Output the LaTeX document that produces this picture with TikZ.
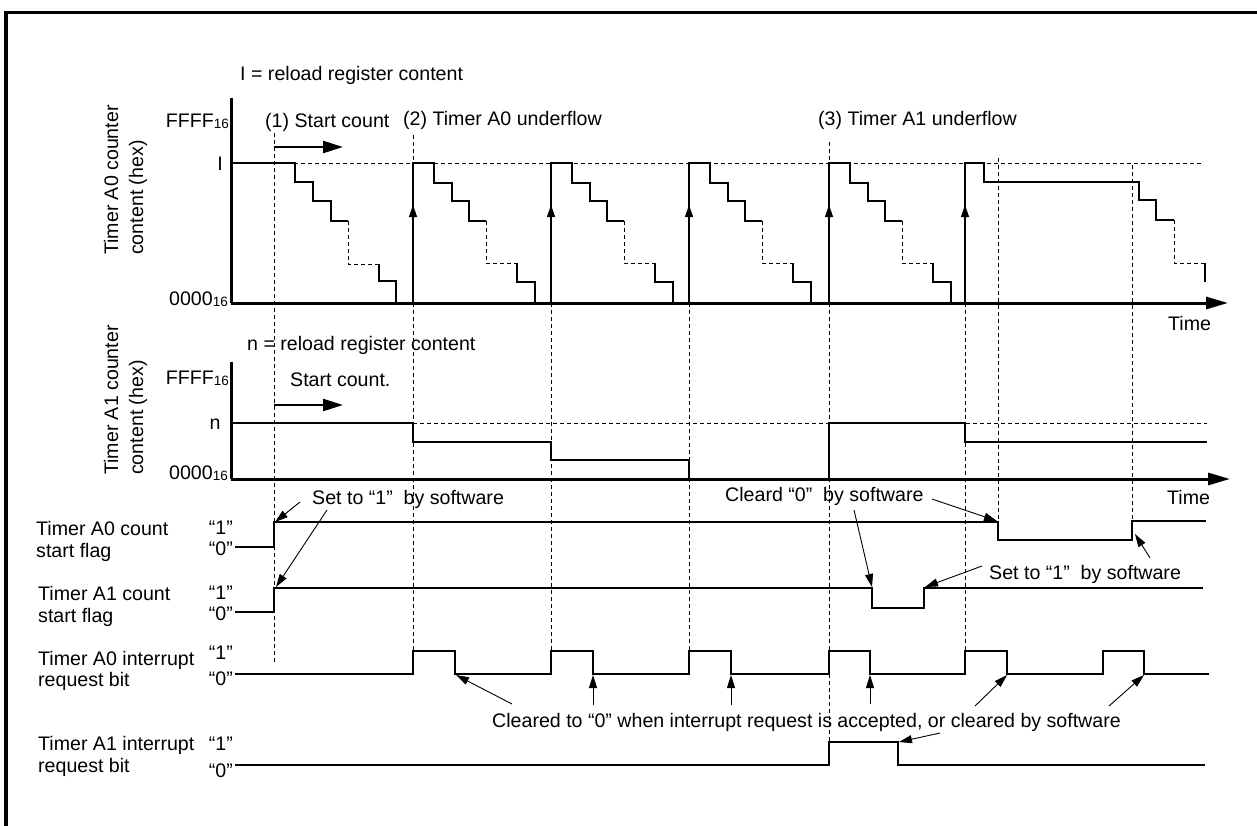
\documentclass[tikz,border=0pt]{standalone}
\usepackage{fontspec}
\setmainfont{Liberation Sans}
\usetikzlibrary{arrows.meta}
\begin{document}
\begin{tikzpicture}[x=1pt,y=-1pt,
  lbl/.style={inner sep=0pt, text height=14pt, text depth=0pt, font=\fontsize{19.6}{23}\selectfont},
  sig/.style={line width=1.3pt, line join=miter},
  dsh/.style={line width=0.8pt, dash pattern=on 4pt off 3pt},
  axisline/.style={line width=3pt},
  ann/.style={line width=0.9pt, -{Triangle[length=13pt,width=8pt]}},
  midtip/.style={line width=1.3pt, -{Triangle[length=12pt,width=8pt]}},
  startarr/.style={line width=2.5pt, -{Triangle[length=20pt,width=12pt]}},
  timearr/.style={line width=3pt, -{Triangle[length=22pt,width=12pt]}},
]
\newcommand{\sub}[1]{\raisebox{-1pt}{\fontsize{13.5}{13.5}\selectfont #1}}
\useasboundingbox (0,0) rectangle (1257,825);
% frame
\draw[line width=3.5pt] (6,830) -- (6,12.5) -- (1262,12.5);

% ---------- Timer A0 counter ----------
\node[lbl, anchor=west] (lI) at (240,73) {I = reload register content};
\node[lbl, anchor=west, rotate=90] (a0l1) at (111,255) {Timer A0 counter};
\node[lbl, anchor=west, rotate=90] (a0l2) at (136,255) {content (hex)};
\node[lbl, anchor=east] (a0F) at (229,120) {FFFF\sub{16}};
\node[lbl, anchor=center] (a0I) at (220,163) {I};
\node[lbl, anchor=east] (a00) at (228,298) {0000\sub{16}};
\node[lbl, anchor=west] (t1) at (265,120) {(1) Start count};
\node[lbl, anchor=west] (t2) at (403,118) {(2) Timer A0 underflow};
\node[lbl, anchor=west] (t3) at (818,118) {(3) Timer A1 underflow};
\node[lbl, anchor=west] (time1) at (1168,323) {Time};

% dashed guides
\draw[dsh] (231,163) -- (1203,163);
\draw[dsh] (274,133) -- (274,662);
\draw[dsh] (413,135) -- (413,651);
\draw[dsh] (551,163) -- (551,651);
\draw[dsh] (689,163) -- (689,651);
\draw[dsh] (829,142) -- (829,742);
\draw[dsh] (965,163) -- (965,651);
\draw[dsh] (998,158) -- (998,522);
\draw[dsh] (1132,165) -- (1132,520);

% axes
\draw[axisline] (231,98) -- (231,303);
\draw[timearr] (231,303) -- (1228,303);
\coordinate (sa1) at (274,147); \coordinate (sa1e) at (343,147);
\draw[startarr] (sa1) -- (sa1e);

% first staircase
\draw[sig] (231,163) -- (295,163) -- (295,182) -- (313,182) -- (313,201) -- (331,201) -- (331,221) -- (348,221);
\draw[dsh] (348,221) -- (348,264) -- (379,264);
\draw[sig] (379,264) -- (379,281) -- (396,281) -- (396,303);

% reload cycles
\foreach \x in {413,551,689,829}{
  \draw[sig] (\x,303) -- (\x,163) -- ({\x+21},163) -- ({\x+21},183) -- ({\x+39},183) -- ({\x+39},201) -- ({\x+56},201) -- ({\x+56},221) -- ({\x+73},221);
  \draw[dsh] ({\x+73},221) -- ({\x+73},263) -- ({\x+104},263);
  \draw[sig] ({\x+104},263) -- ({\x+104},282) -- ({\x+122},282) -- ({\x+122},303);
  \draw[midtip] (\x,232) -- (\x,205);
}
\draw[sig] (965,303) -- (965,163) -- (984,163) -- (984,182) -- (1139,182) -- (1139,200) -- (1156,200) -- (1156,220) -- (1174,220);
\draw[dsh] (1174,220) -- (1174,263) -- (1205,263);
\draw[sig] (1205,263) -- (1205,282);
\draw[midtip] (965,232) -- (965,205);

% ---------- Timer A1 counter ----------
\node[lbl, anchor=west] (ln) at (247,343) {n = reload register content};
\node[lbl, anchor=west, rotate=90] (a1l1) at (111,475) {Timer A1 counter};
\node[lbl, anchor=west, rotate=90] (a1l2) at (136,475) {content (hex)};
\node[lbl, anchor=east] (a1F) at (229,377) {FFFF\sub{16}};
\node[lbl, anchor=center] (a1n) at (215,422) {n};
\node[lbl, anchor=east] (a10) at (228,472) {0000\sub{16}};
\node[lbl, anchor=west] (t4) at (290,379) {Start count.};
\node[lbl, anchor=west] (time2) at (1167,497) {Time};

\draw[dsh] (231,423) -- (1207,423);
\draw[axisline] (231,362) -- (231,479);
\draw[timearr] (231,479) -- (1230,479);
\coordinate (sa2) at (274,405); \coordinate (sa2e) at (343,405);
\draw[startarr] (sa2) -- (sa2e);
\draw[sig] (231,423) -- (413,423) -- (413,442) -- (551,442) -- (551,460) -- (689,460) -- (689,479);
\draw[sig] (829,479) -- (829,423) -- (965,423) -- (965,442) -- (1207,442);

% ---------- flags ----------
\node[lbl, anchor=west] (f0a) at (36,528) {Timer A0 count};
\node[lbl, anchor=west] (f0b) at (36,550) {start flag};
\node[lbl, anchor=east] (f01) at (233,527) {“1”};
\node[lbl, anchor=east] (f00) at (233,548) {“0”};
\draw[sig] (235,547) -- (274,547) -- (274,522) -- (998,522) -- (998,540) -- (1132,540) -- (1132,521) -- (1206,521);

\node[lbl, anchor=west] (f1a) at (38,593) {Timer A1 count};
\node[lbl, anchor=west] (f1b) at (38,615) {start flag};
\node[lbl, anchor=east] (f11) at (233,592) {“1”};
\node[lbl, anchor=east] (f10) at (233,613) {“0”};
\draw[sig] (235,612) -- (274,612) -- (274,588) -- (872,588) -- (872,608) -- (924,608) -- (924,588) -- (1203,588);

% ---------- interrupt request bits ----------
\node[lbl, anchor=west] (i0a) at (38,658) {Timer A0 interrupt};
\node[lbl, anchor=west] (i0b) at (38,679) {request bit};
\node[lbl, anchor=east] (i01) at (233,652) {“1”};
\node[lbl, anchor=east] (i00) at (233,678) {“0”};
\draw[sig] (235,674) -- (413,674) -- (413,651) -- (455,651) -- (455,674) -- (551,674) -- (551,651) -- (593,651) -- (593,674)
  -- (689,674) -- (689,651) -- (731,651) -- (731,674) -- (829,674) -- (829,651) -- (870,651) -- (870,674)
  -- (965,674) -- (965,651) -- (1007,651) -- (1007,674) -- (1103,674) -- (1103,651) -- (1144,651) -- (1144,674) -- (1209,674);

\node[lbl, anchor=west] (i1a) at (38,743) {Timer A1 interrupt};
\node[lbl, anchor=west] (i1b) at (38,765) {request bit};
\node[lbl, anchor=east] (i11) at (233,743) {“1”};
\node[lbl, anchor=east] (i10) at (233,770) {“0”};
\draw[sig] (235,765) -- (829,765) -- (829,742) -- (898,742) -- (898,765) -- (1205,765);

% ---------- annotations ----------
\node[lbl, anchor=west] (set1) at (312,497) {Set to “1”~~by software};
\node[lbl, anchor=west] (clr) at (725,494) {Cleard “0”~~by software};
\node[lbl, anchor=west] (set2) at (989,572) {Set to “1”~~by software};
\node[lbl, anchor=west] (clri) at (492,720) {Cleared to “0” when interrupt request is accepted, or cleared by software};

\coordinate (a1s) at (300,502); \coordinate (a1e) at (275,522);
\coordinate (a2s) at (327,510); \coordinate (a2e) at (276,587);
\coordinate (a3s) at (854,510); \coordinate (a3e) at (872,587);
\coordinate (a4s) at (932,499); \coordinate (a4e) at (997,521);
\coordinate (a5s) at (982,566); \coordinate (a5e) at (925,587);
\coordinate (a6s) at (1150,558); \coordinate (a6e) at (1135,534);
\coordinate (a7s) at (512,704); \coordinate (a7e) at (456,675);
\coordinate (a8s) at (593,705); \coordinate (a8e) at (593,675);
\coordinate (a9s) at (731,705); \coordinate (a9e) at (731,675);
\coordinate (a10s) at (870,704); \coordinate (a10e) at (870,675);
\coordinate (a11s) at (975,706); \coordinate (a11e) at (1007,675);
\coordinate (a12s) at (1109,706); \coordinate (a12e) at (1144,675);
\coordinate (a13s) at (940,733); \coordinate (a13e) at (899,742);
\foreach \k in {1,...,13}{\draw[ann] (a\k s) -- (a\k e);}
\end{tikzpicture}
\end{document}
